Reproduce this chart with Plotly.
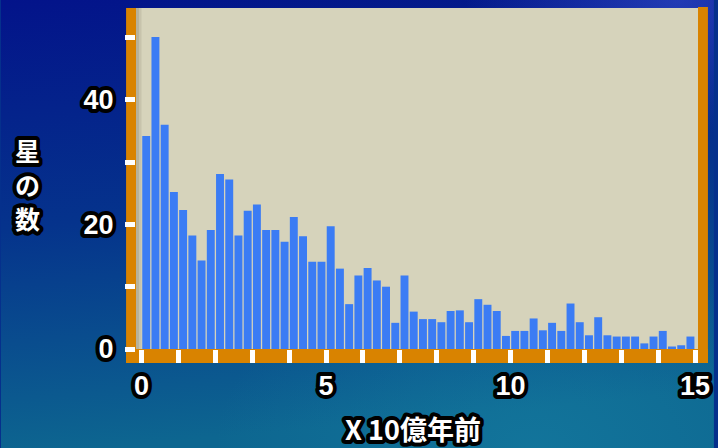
import base64
import plotly.graph_objects as go

# Star counts in 0.25-billion-year bins, 0 to 15 billion years ago
bin_width = 0.25
star_counts = [
    34.2, 50.1, 36.0, 25.2, 22.3, 18.2, 14.2, 19.1, 28.1, 27.2,
    18.2, 22.2, 23.2, 19.1, 19.1, 17.2, 21.2, 18.1, 14.0, 14.0,
    19.7, 12.9, 7.2, 11.8, 13.0, 11.0, 10.0, 4.2, 11.8, 6.0,
    4.8, 4.8, 4.3, 6.1, 6.2, 4.3, 8.0, 7.1, 6.1, 2.1,
    2.9, 2.9, 4.9, 3.0, 4.2, 2.9, 7.3, 4.3, 2.2, 5.1,
    2.2, 2.0, 2.0, 2.0, 0.9, 2.0, 2.9, 0.4, 0.6, 2.0,
]
bin_centres = [(i + 0.5) * bin_width for i in range(len(star_counts))]
x_tick_vals = [0, 5, 10, 15]
y_tick_vals = [0, 20, 40]
x_title = "X 10億年前"
y_title = "星の数"

W, H = 718, 448
M_L, M_R, M_T, M_B = 136, 16, 8, 99
PW, PH = W - M_L - M_R, H - M_T - M_B

BG_PLOT = "#D6D3BB"
BAR = "#3B7CF4"
FRAME = "#D98300"
TICK = "#FFFFFF"


def outlined(s, edge="#000", width=8):
    """White text with a heavy outline, TV-caption style."""
    style = (f"stroke:{edge};stroke-width:{width}px;stroke-linejoin:round;"
             "paint-order:stroke fill")
    return f"<span style='{style}'>{s}</span>"


def px_x(p):
    """Screen x pixel -> paper coordinate."""
    return (p - M_L) / PW


def px_y(p):
    """Screen y pixel (from top) -> paper coordinate."""
    return (H - M_B - p) / PH


# Blue studio backdrop as an inline SVG gradient
svg = f"""<svg xmlns='http://www.w3.org/2000/svg' width='{W}' height='{H}' viewBox='0 0 {W} {H}' preserveAspectRatio='none'>
<defs>
<linearGradient id='g' x1='0' y1='0' x2='0.15' y2='1'>
<stop offset='0' stop-color='#03138a'/>
<stop offset='0.5' stop-color='#05338c'/>
<stop offset='1' stop-color='#0d6690'/>
</linearGradient>
<radialGradient id='r' cx='0.95' cy='0' r='0.3'>
<stop offset='0' stop-color='#3b52d6' stop-opacity='0.55'/>
<stop offset='1' stop-color='#3b52d6' stop-opacity='0'/>
</radialGradient>
<radialGradient id='t' cx='0.75' cy='1' r='0.45'>
<stop offset='0' stop-color='#1a8aab' stop-opacity='0.4'/>
<stop offset='1' stop-color='#1a8aab' stop-opacity='0'/>
</radialGradient>
</defs>
<rect width='{W}' height='{H}' fill='url(#g)'/>
<rect width='{W}' height='{H}' fill='url(#r)'/>
<rect width='{W}' height='{H}' fill='url(#t)'/>
</svg>"""
bg_src = "data:image/svg+xml;base64," + base64.b64encode(svg.encode()).decode()

fig = go.Figure(
    go.Bar(
        x=bin_centres,
        y=star_counts,
        marker=dict(color=BAR, line=dict(width=0)),
        hovertemplate="%{x}: %{y}<extra></extra>",
    )
)

tick_font = dict(family="Liberation Sans, Arial, sans-serif", size=27,
                 color="white", weight="bold")
title_font = dict(family="Noto Sans CJK JP, sans-serif", size=25,
                  color="white", weight="bold")

annotations = [
    dict(text=outlined(ch), xref="paper", yref="paper",
         x=px_x(27), y=px_y(150 + 34 * i), xanchor="center", yanchor="middle",
         showarrow=False, font=title_font)
    for i, ch in enumerate(y_title)
]
annotations.append(
    dict(text=outlined(x_title), xref="paper", yref="paper",
         x=px_x(415), y=px_y(428), xanchor="center", yanchor="middle",
         showarrow=False, font=dict(title_font, size=27))
)

fig.update_layout(
    width=W, height=H, autosize=False,
    margin=dict(l=M_L, r=M_R, t=M_T, b=M_B, pad=0),
    paper_bgcolor="#05308c",
    plot_bgcolor="rgba(0,0,0,0)",
    bargap=0.14,
    showlegend=False,
    images=[dict(source=bg_src, xref="paper", yref="paper",
                 x=px_x(0), y=px_y(0), sizex=W / PW, sizey=H / PH,
                 xanchor="left", yanchor="top", sizing="stretch", layer="below")],
    shapes=[
        # beige panel behind the bars
        dict(type="rect", xref="paper", yref="paper", layer="below",
             x0=0, x1=1, y0=0, y1=1, fillcolor=BG_PLOT, line=dict(width=0)),
        # orange frame: left, bottom, right
        dict(type="rect", xref="paper", yref="paper", layer="below",
             x0=px_x(126), x1=px_x(136), y0=px_y(363), y1=px_y(8),
             fillcolor=FRAME, line=dict(width=0)),
        dict(type="rect", xref="paper", yref="paper", layer="below",
             x0=px_x(126), x1=px_x(712), y0=px_y(363), y1=px_y(349),
             fillcolor=FRAME, line=dict(width=0)),
        dict(type="rect", xref="paper", yref="paper", layer="below",
             x0=px_x(702), x1=px_x(712), y0=px_y(363), y1=px_y(7),
             fillcolor=FRAME, line=dict(width=0)),
        # soft inner shadow along the left edge of the panel
        dict(type="rect", xref="paper", yref="paper", layer="above",
             x0=px_x(136), x1=px_x(139), y0=0, y1=1,
             fillcolor="rgba(70,60,40,0.22)", line=dict(width=0)),
        dict(type="rect", xref="paper", yref="paper", layer="above",
             x0=px_x(139), x1=px_x(141.5), y0=0, y1=1,
             fillcolor="rgba(70,60,40,0.10)", line=dict(width=0)),
    ],
    annotations=annotations,
)

fig.update_xaxes(
    range=[-0.152, 15.08],
    tickvals=x_tick_vals, ticktext=[outlined(v) for v in x_tick_vals],
    ticks="outside", ticklen=13, tickwidth=5, tickcolor=TICK,
    minor=dict(dtick=1, tick0=0, ticks="outside", ticklen=13, tickwidth=5, tickcolor=TICK),
    showgrid=False, zeroline=False, showline=False,
    tickfont=tick_font, ticklabelstandoff=0,
)
fig.update_yaxes(
    range=[0, PH / 6.23],
    tickvals=y_tick_vals, ticktext=[outlined(v) for v in y_tick_vals],
    ticks="outside", ticklen=10, tickwidth=5, tickcolor=TICK,
    minor=dict(dtick=10, tick0=0, ticks="outside", ticklen=10, tickwidth=5, tickcolor=TICK),
    showgrid=False, zeroline=False, showline=False,
    tickfont=tick_font, ticklabelstandoff=6,
)

fig.write_html("out.html")
